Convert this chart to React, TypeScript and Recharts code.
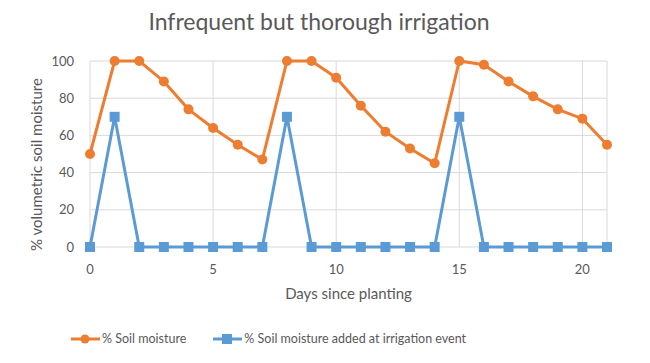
import React from 'react'
import {
    LineChart,
    Line,
    XAxis,
    YAxis,
    CartesianGrid,
    Legend
} from 'recharts'

// Days 0..21 and readings taken off the chart
const days = [0, 1, 2, 3, 4, 5, 6, 7, 8, 9, 10, 11, 12, 13, 14, 15, 16, 17, 18, 19, 20, 21]
const soilMoisture = [50, 100, 100, 89, 74, 64, 55, 47, 100, 100, 91, 76, 62, 53, 45, 100, 98, 89, 81, 74, 69, 55]
const irrigationAdded = [0, 70, 0, 0, 0, 0, 0, 0, 70, 0, 0, 0, 0, 0, 0, 70, 0, 0, 0, 0, 0, 0]
const xTicks = [0, 5, 10, 15, 20]
const yTicks = [0, 20, 40, 60, 80, 100]

const ORANGE = '#ED7D31'
const BLUE = '#5B9BD5'
const TEXT = '#595959'
const FONT = 'Lato, "Open Sans", sans-serif'

const data = days.map((d, i) => ({
    day: d,
    moisture: soilMoisture[i],
    added: irrigationAdded[i]
}))

function SquareDot(props: any) {
    const { cx, cy } = props
    if (cx == null || cy == null) return null
    return <rect x={cx - 5} y={cy - 5} width={10} height={10} fill={BLUE} />
}

function LegendContent() {
    const items = [
        { label: '% Soil moisture', color: ORANGE, shape: 'circle' },
        { label: '% Soil moisture added at irrigation event', color: BLUE, shape: 'square' }
    ]
    return (
        <div style={{ display: 'flex', paddingLeft: 70, gap: 26, fontFamily: FONT, fontSize: 12.5, color: TEXT }}>
            {items.map((it) => (
                <div key={it.label} style={{ display: 'flex', alignItems: 'center' }}>
                    <svg width={31} height={12} style={{ marginRight: 1 }}>
                        <line x1={1} y1={6} x2={30} y2={6} stroke={it.color} strokeWidth={3} />
                        {it.shape === 'circle'
                            ? <circle cx={15} cy={6} r={4.5} fill={it.color} />
                            : <rect x={10} y={1} width={10} height={10} fill={it.color} />}
                    </svg>
                    <span>{it.label}</span>
                </div>
            ))}
        </div>
    )
}

export default function App() {
    return (
        <div style={{ position: 'absolute', left: 0, top: 0, width: 650, height: 363, background: '#fff' }}>
            <div style={{
                position: 'absolute', top: 7, left: 0, width: 638, textAlign: 'center',
                fontFamily: FONT, fontSize: 23, color: TEXT
            }}>
                Infrequent but thorough irrigation
            </div>
            <LineChart
                width={650}
                height={363}
                data={data}
                margin={{ top: 61, right: 43, left: 40, bottom: 86 }}
            >
                <CartesianGrid stroke="#d9d9d9" strokeWidth={1} />
                <XAxis
                    dataKey="day"
                    type="number"
                    domain={[0, 21]}
                    ticks={xTicks}
                    axisLine={false}
                    tickLine={false}
                    height={30}
                    tick={{ fill: TEXT, fontSize: 13, fontFamily: FONT }}
                    tickMargin={12}
                    label={{ value: 'Days since planting', position: 'insideBottom', offset: -22, fill: TEXT, fontSize: 15, fontFamily: FONT }}
                />
                <YAxis
                    domain={[0, 100]}
                    ticks={yTicks}
                    axisLine={false}
                    tickLine={false}
                    width={50}
                    tick={{ fill: TEXT, fontSize: 13, fontFamily: FONT }}
                    tickMargin={10}
                    label={{ value: '% volumetric soil moisture', angle: -90, position: 'insideLeft', offset: -3, dy: 97, fill: TEXT, fontSize: 15, fontFamily: FONT }}
                />
                <Legend
                    verticalAlign="middle"
                    align="center"
                    content={<LegendContent />}
                    wrapperStyle={{ top: 331, left: 0, width: 650 }}
                />
                <Line
                    dataKey="moisture"
                    name="% Soil moisture"
                    stroke={ORANGE}
                    strokeWidth={3}
                    dot={{ r: 5, fill: ORANGE, stroke: ORANGE, strokeWidth: 0 }}
                    isAnimationActive={false}
                />
                <Line
                    dataKey="added"
                    name="% Soil moisture added at irrigation event"
                    stroke={BLUE}
                    strokeWidth={3}
                    dot={<SquareDot />}
                    isAnimationActive={false}
                />
            </LineChart>
        </div>
    )
}
